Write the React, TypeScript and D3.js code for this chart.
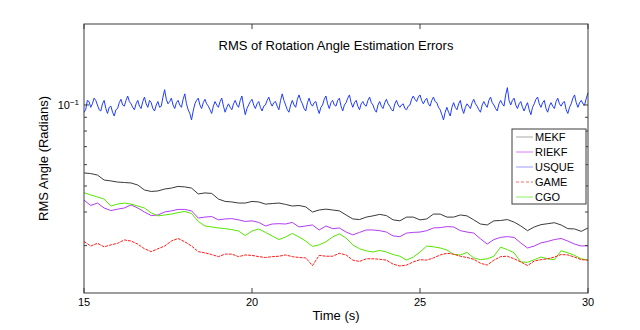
import React from 'react';
import * as d3 from 'd3';

// sample times: 0.2 s for the smooth filters, 0.05 s for USQUE
const tSlow = d3.range(76).map(i => 15 + i * 0.2);
const tFast = d3.range(301).map(i => 15 + i * 0.05);

const mekf = [
  0.0559, 0.0556, 0.0549, 0.0526, 0.0522, 0.0517, 0.0515, 0.0513, 0.0504, 0.0483,
  0.0477, 0.0479, 0.0487, 0.0491, 0.0498, 0.0496, 0.0491, 0.0467, 0.0471, 0.0469,
  0.0447, 0.0438, 0.0436, 0.0432, 0.0432, 0.0438, 0.0436, 0.0428, 0.0430, 0.0432,
  0.0427, 0.0421, 0.0423, 0.0418, 0.0400, 0.0407, 0.0410, 0.0407, 0.0404, 0.0390,
  0.0377, 0.0375, 0.0383, 0.0387, 0.0392, 0.0388, 0.0374, 0.0371, 0.0383, 0.0383,
  0.0374, 0.0377, 0.0393, 0.0393, 0.0383, 0.0383, 0.0390, 0.0387, 0.0374, 0.0361,
  0.0358, 0.0371, 0.0372, 0.0375, 0.0367, 0.0355, 0.0341, 0.0352, 0.0359, 0.0362,
  0.0365, 0.0358, 0.0347, 0.0346, 0.0339, 0.0349,
];

const riekf = [
  0.0443, 0.0423, 0.0432, 0.0414, 0.0405, 0.0410, 0.0414, 0.0425, 0.0414, 0.0400,
  0.0388, 0.0390, 0.0400, 0.0404, 0.0409, 0.0409, 0.0404, 0.0380, 0.0383, 0.0385,
  0.0374, 0.0377, 0.0378, 0.0374, 0.0369, 0.0371, 0.0366, 0.0355, 0.0361, 0.0362,
  0.0361, 0.0366, 0.0352, 0.0355, 0.0358, 0.0343, 0.0355, 0.0347, 0.0349, 0.0337,
  0.0329, 0.0336, 0.0343, 0.0343, 0.0341, 0.0337, 0.0326, 0.0324, 0.0334, 0.0336,
  0.0337, 0.0341, 0.0349, 0.0350, 0.0353, 0.0352, 0.0341, 0.0337, 0.0334, 0.0318,
  0.0304, 0.0316, 0.0322, 0.0324, 0.0322, 0.0307, 0.0294, 0.0299, 0.0307, 0.0311,
  0.0316, 0.0319, 0.0312, 0.0304, 0.0299, 0.0300,
];

const usque = [
  0.094, 0.096, 0.104, 0.103, 0.098, 0.101, 0.106, 0.104, 0.100, 0.096,
  0.095, 0.101, 0.104, 0.097, 0.093, 0.098, 0.099, 0.094, 0.091, 0.096,
  0.097, 0.102, 0.105, 0.100, 0.099, 0.104, 0.108, 0.103, 0.101, 0.098,
  0.096, 0.101, 0.104, 0.099, 0.097, 0.103, 0.107, 0.101, 0.098, 0.104,
  0.102, 0.097, 0.095, 0.100, 0.103, 0.098, 0.099, 0.107, 0.114, 0.105,
  0.101, 0.103, 0.106, 0.100, 0.097, 0.102, 0.104, 0.100, 0.098, 0.105,
  0.110, 0.101, 0.096, 0.093, 0.088, 0.095, 0.101, 0.104, 0.106, 0.100,
  0.097, 0.102, 0.105, 0.101, 0.099, 0.096, 0.093, 0.099, 0.103, 0.100,
  0.098, 0.103, 0.106, 0.099, 0.094, 0.098, 0.101, 0.098, 0.096, 0.101,
  0.104, 0.100, 0.098, 0.104, 0.108, 0.099, 0.092, 0.097, 0.100, 0.103,
  0.105, 0.100, 0.097, 0.101, 0.103, 0.098, 0.095, 0.099, 0.100, 0.104,
  0.107, 0.102, 0.099, 0.102, 0.103, 0.099, 0.096, 0.104, 0.110, 0.104,
  0.100, 0.096, 0.094, 0.100, 0.104, 0.100, 0.098, 0.105, 0.109, 0.104,
  0.101, 0.097, 0.095, 0.102, 0.106, 0.101, 0.099, 0.102, 0.103, 0.097,
  0.093, 0.098, 0.100, 0.105, 0.108, 0.101, 0.097, 0.102, 0.104, 0.100,
  0.099, 0.104, 0.106, 0.099, 0.095, 0.100, 0.102, 0.106, 0.109, 0.102,
  0.098, 0.102, 0.104, 0.099, 0.096, 0.101, 0.103, 0.100, 0.099, 0.104,
  0.107, 0.102, 0.100, 0.096, 0.094, 0.100, 0.103, 0.099, 0.097, 0.102,
  0.105, 0.101, 0.099, 0.096, 0.095, 0.101, 0.104, 0.100, 0.098, 0.100,
  0.101, 0.097, 0.096, 0.099, 0.100, 0.105, 0.108, 0.105, 0.103, 0.107,
  0.109, 0.104, 0.101, 0.104, 0.106, 0.101, 0.099, 0.104, 0.107, 0.103,
  0.102, 0.098, 0.096, 0.092, 0.088, 0.094, 0.098, 0.094, 0.091, 0.098,
  0.102, 0.098, 0.096, 0.101, 0.104, 0.097, 0.093, 0.098, 0.101, 0.099,
  0.097, 0.102, 0.105, 0.101, 0.099, 0.096, 0.094, 0.100, 0.103, 0.100,
  0.098, 0.104, 0.107, 0.102, 0.100, 0.097, 0.095, 0.101, 0.104, 0.101,
  0.099, 0.109, 0.116, 0.104, 0.100, 0.104, 0.106, 0.100, 0.097, 0.101,
  0.103, 0.098, 0.095, 0.099, 0.102, 0.096, 0.092, 0.098, 0.101, 0.105,
  0.107, 0.101, 0.098, 0.102, 0.104, 0.097, 0.094, 0.099, 0.102, 0.099,
  0.097, 0.103, 0.106, 0.101, 0.099, 0.102, 0.103, 0.096, 0.093, 0.098,
  0.101, 0.106, 0.109, 0.102, 0.098, 0.102, 0.104, 0.101, 0.100, 0.106,
  0.111,
];

const game = [
  0.0311, 0.0299, 0.0306, 0.0297, 0.0302, 0.0306, 0.0315, 0.0312, 0.0304, 0.0292,
  0.0285, 0.0292, 0.0299, 0.0312, 0.0319, 0.0310, 0.0299, 0.0285, 0.0282, 0.0278,
  0.0273, 0.0279, 0.0279, 0.0273, 0.0277, 0.0276, 0.0273, 0.0271, 0.0273, 0.0274,
  0.0277, 0.0273, 0.0271, 0.0270, 0.0253, 0.0276, 0.0274, 0.0274, 0.0281, 0.0277,
  0.0265, 0.0262, 0.0268, 0.0268, 0.0267, 0.0265, 0.0256, 0.0252, 0.0254, 0.0261,
  0.0266, 0.0265, 0.0270, 0.0277, 0.0281, 0.0279, 0.0274, 0.0271, 0.0267, 0.0258,
  0.0254, 0.0265, 0.0273, 0.0274, 0.0268, 0.0261, 0.0253, 0.0263, 0.0266, 0.0268,
  0.0272, 0.0278, 0.0277, 0.0272, 0.0266, 0.0265,
];

const cgo = [
  0.0472, 0.0463, 0.0455, 0.0447, 0.0421, 0.0428, 0.0432, 0.0428, 0.0421, 0.0414,
  0.0397, 0.0387, 0.0390, 0.0393, 0.0398, 0.0402, 0.0395, 0.0369, 0.0355, 0.0352,
  0.0349, 0.0347, 0.0344, 0.0340, 0.0327, 0.0340, 0.0346, 0.0336, 0.0326, 0.0316,
  0.0323, 0.0333, 0.0323, 0.0312, 0.0298, 0.0302, 0.0310, 0.0323, 0.0332, 0.0320,
  0.0302, 0.0292, 0.0287, 0.0284, 0.0288, 0.0284, 0.0278, 0.0274, 0.0265, 0.0272,
  0.0284, 0.0299, 0.0297, 0.0294, 0.0289, 0.0278, 0.0277, 0.0283, 0.0270, 0.0266,
  0.0268, 0.0274, 0.0296, 0.0290, 0.0282, 0.0261, 0.0260, 0.0266, 0.0272, 0.0268,
  0.0266, 0.0287, 0.0282, 0.0276, 0.0268, 0.0265,
];

const xTicks = [15, 20, 25, 30];
const yMinorTicks = [0.03, 0.04, 0.05, 0.06, 0.07, 0.08, 0.09];

const series = [
  { name: 'USQUE', t: tFast, v: usque, color: '#1f3cff', legend: '#9a9cff', dash: null },
  { name: 'MEKF', t: tSlow, v: mekf, color: '#3a3a3a', legend: '#a8a8a8', dash: null },
  { name: 'RIEKF', t: tSlow, v: riekf, color: '#b23cf2', legend: '#d47cff', dash: null },
  { name: 'CGO', t: tSlow, v: cgo, color: '#55e600', legend: '#8cf060', dash: null },
  { name: 'GAME', t: tSlow, v: game, color: '#ff1a1a', legend: '#ff6a6a', dash: '3,1' },
];
const legendOrder = ['MEKF', 'RIEKF', 'USQUE', 'GAME', 'CGO'];

const font = 'Liberation Sans, Arial, Helvetica, sans-serif';

export default function App() {
  const width = 640;
  const height = 330;
  const margin = { top: 24, right: 52, bottom: 37, left: 84 };
  const innerWidth = width - margin.left - margin.right;
  const innerHeight = height - margin.top - margin.bottom;

  const xScale = d3.scaleLinear().domain([15, 30]).range([0, innerWidth]);
  const yScale = d3.scaleLog().domain([0.02, 0.2]).range([innerHeight, 0]);

  const axisColor = '#3c3c3c';

  return (
    <svg
      width={width}
      height={height}
      style={{ position: 'absolute', left: 0, top: 0, background: '#fff' }}
      fontFamily={font}
    >
      <g transform={`translate(${margin.left},${margin.top})`}>
        {/* lines */}
        <g>
          {series.map(s => {
            const pts = s.v.map((v, i) => [s.t[i], v] as [number, number]);
            const path = d3
              .line<[number, number]>()
              .x(d => xScale(d[0]))
              .y(d => yScale(d[1]))(pts);
            return (
              <path
                key={s.name}
                d={path || ''}
                fill="none"
                stroke={s.color}
                strokeWidth={1}
                strokeDasharray={s.dash || undefined}
                strokeLinejoin="round"
              />
            );
          })}
        </g>

        {/* axes box */}
        <rect x={0} y={0} width={innerWidth} height={innerHeight} fill="none" stroke={axisColor} strokeWidth={1} />

        {xTicks.map(t => (
          <g key={t} transform={`translate(${xScale(t)},0)`}>
            <line y1={innerHeight} y2={innerHeight - 5} stroke={axisColor} />
            <line y1={0} y2={5} stroke={axisColor} />
            <text y={innerHeight + 13} textAnchor="middle" fontSize={11} fill="#000">
              {t}
            </text>
          </g>
        ))}

        {yMinorTicks.map(v => (
          <g key={v} transform={`translate(0,${yScale(v)})`}>
            <line x1={0} x2={3} stroke={axisColor} />
            <line x1={innerWidth} x2={innerWidth - 3} stroke={axisColor} />
          </g>
        ))}
        <g transform={`translate(0,${yScale(0.1)})`}>
          <line x1={0} x2={5} stroke={axisColor} />
          <line x1={innerWidth} x2={innerWidth - 5} stroke={axisColor} />
          <text x={-5} dy="0.35em" textAnchor="end" fontSize={11} fill="#000">
            10
            <tspan dy="-0.45em" fontSize={8}>
              −1
            </tspan>
          </text>
        </g>

        {/* title and labels */}
        <text x={innerWidth / 2} y={26} textAnchor="middle" fontSize={13} fill="#000">
          RMS of Rotation Angle Estimation Errors
        </text>
        <text x={innerWidth / 2} y={innerHeight + 27} textAnchor="middle" fontSize={13} fill="#000">
          Time (s)
        </text>
        <text
          transform={`translate(${-36},${innerHeight / 2}) rotate(-90)`}
          textAnchor="middle"
          fontSize={13}
          fill="#000"
        >
          RMS Angle (Radians)
        </text>

        {/* legend */}
        <g transform={`translate(${innerWidth - 76},${105})`}>
          <rect x={0} y={0} width={74} height={75} fill="#fff" stroke={axisColor} strokeWidth={1} />
          {legendOrder.map((name, i) => {
            const s = series.find(d => d.name === name)!;
            const y = 8 + i * 15;
            return (
              <g key={name} transform={`translate(0,${y})`}>
                <line
                  x1={4}
                  x2={21}
                  stroke={s.legend}
                  strokeWidth={1}
                  strokeDasharray={s.dash ? '3,2' : undefined}
                />
                <text x={23} dy="0.35em" fontSize={11} fill="#000">
                  {name}
                </text>
              </g>
            );
          })}
        </g>
      </g>
    </svg>
  );
}
